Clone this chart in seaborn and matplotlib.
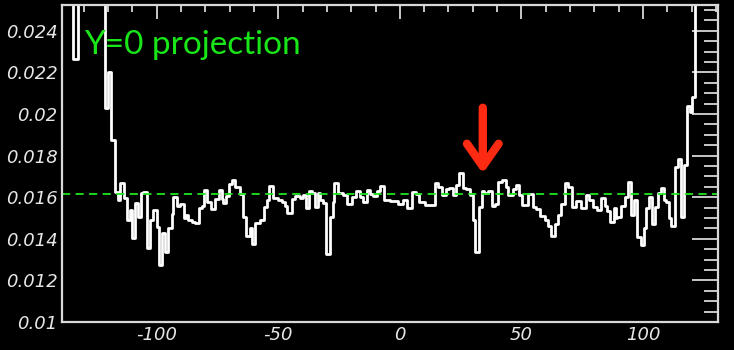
import numpy as np
import pandas as pd
import matplotlib
matplotlib.use("Agg")
import matplotlib.pyplot as plt
from matplotlib.ticker import MultipleLocator, FuncFormatter
import seaborn as sns

# ---- data (values in units of 1e-3) ----
bin_edges = [-138.9, -134.4, -132.5, -121.2, -119.8, -118.7, -117.0, -115.8, -115.0, -113.3,
             -112.2, -110.9, -110.1, -108.8, -107.6, -106.5, -105.4, -103.8, -102.7, -101.6,
             -99.9, -98.9, -97.9, -96.5, -95.2, -93.8, -93.1, -91.7, -90.4, -88.7,
             -87.9, -86.9, -85.5, -84.2, -82.4, -81.4, -80.5, -79.4, -77.6, -76.0,
             -74.2, -73.3, -72.6, -71.5, -70.1, -69.1, -67.8, -65.7, -64.6, -63.2,
             -61.6, -60.8, -59.5, -57.5, -55.9, -54.7, -53.7, -52.0, -50.1, -48.6,
             -47.2, -46.5, -44.5, -43.1, -41.1, -39.7, -38.6, -37.2, -36.3, -34.9,
             -33.7, -32.9, -31.5, -30.4, -28.7, -27.6, -27.0, -25.3, -23.3, -21.9,
             -19.8, -18.1, -16.4, -15.1, -13.7, -12.3, -11.2, -9.6, -8.2, -6.6,
             -4.1, -0.7, 1.4, 2.8, 4.8, 6.6, 7.9, 10.3, 14.4, 15.7,
             17.5, 18.9, 20.2, 21.9, 23.0, 24.4, 26.0, 27.1, 28.7, 30.1,
             30.8, 32.6, 33.6, 34.5, 36.3, 37.7, 39.0, 40.4, 41.8, 43.5,
             44.5, 46.5, 47.9, 49.0, 50.4, 52.7, 54.7, 56.1, 57.8, 59.5,
             60.9, 62.3, 63.7, 65.0, 66.4, 67.8, 69.1, 70.9, 72.6, 74.6,
             76.4, 77.7, 79.4, 81.0, 82.8, 84.2, 85.3, 86.2, 88.0, 88.7,
             89.4, 90.8, 92.4, 93.8, 95.2, 96.2, 97.6, 99.0, 100.3, 101.3,
             102.3, 103.6, 105.0, 106.1, 107.2, 108.5, 109.5, 110.5, 111.6, 113.3,
             114.3, 115.4, 117.0, 118.2, 119.1, 120.0, 121.2, 130.8]

bin_values = [27.0, 22.64, 27.0, 20.29, 22.03, 18.75, 16.26, 15.87, 16.67, 15.96,
              14.9, 15.38, 14.04, 15.72, 15.05, 16.2, 16.25, 13.56, 14.9, 15.38,
              14.57, 12.74, 14.28, 13.37, 14.5, 15.2, 16.0, 15.58, 15.67, 15.0,
              15.14, 14.9, 14.82, 14.74, 15.47, 15.58, 16.35, 15.78, 15.43, 15.91,
              16.35, 15.91, 15.72, 16.06, 16.63, 16.83, 16.5, 16.15, 15.03, 14.13,
              14.5, 13.75, 14.74, 14.9, 15.51, 15.87, 16.54, 15.94, 15.87, 15.78,
              15.58, 15.26, 15.9, 16.06, 15.94, 16.1, 15.5, 16.31, 16.19, 15.55,
              16.19, 15.87, 15.71, 13.27, 15.06, 15.78, 16.7, 16.22, 16.1, 15.67,
              16.02, 16.31, 16.02, 15.78, 16.35, 16.15, 16.06, 16.31, 16.54, 15.87,
              15.82, 15.67, 15.87, 15.47, 16.26, 16.15, 15.75, 15.62, 16.7, 16.48,
              16.1, 16.38, 16.43, 16.1, 16.59, 17.15, 16.43, 16.38, 16.1, 14.9,
              13.38, 15.54, 16.31, 16.22, 16.31, 15.58, 15.67, 16.75, 16.83, 16.48,
              16.1, 16.38, 16.59, 16.1, 15.62, 16.15, 15.54, 15.42, 15.1, 14.9,
              14.62, 14.13, 14.71, 15.14, 15.67, 16.7, 16.48, 15.54, 15.83, 15.47,
              16.1, 15.87, 15.51, 15.38, 15.94, 15.6, 15.35, 14.82, 15.47, 15.0,
              15.03, 15.58, 16.02, 16.75, 15.14, 15.87, 14.1, 13.7, 14.5, 15.47,
              16.0, 14.71, 15.54, 16.22, 16.43, 15.87, 15.78, 15.0, 14.62, 17.47,
              17.82, 15.03, 17.55, 20.38, 20.11, 20.8, 27.0]

fit_level = 0.01614
title_text = "Y=0 projection"
arrow_x = 34.1
arrow_y = [0.02030, 0.01714]
x_ticks = [-100, -50, 0, 50, 100]

# ---- plotting ----
sns.set_theme(style="dark")
plt.rcParams["font.family"] = ["DejaVu Sans"]
plt.rcParams["axes.unicode_minus"] = False

edges = np.array(bin_edges)
df = pd.DataFrame({
    "x": 0.5 * (edges[:-1] + edges[1:]),
    "w": np.array(bin_values) * 1e-3,
})

fig = plt.figure(figsize=(7.34, 3.5), dpi=100, facecolor="black")
ax = fig.add_axes([62 / 734, 1 - 322 / 350, (718 - 62) / 734, (322 - 5) / 350])
ax.set_facecolor("black")

sns.histplot(data=df, x="x", weights="w", bins=list(bin_edges), element="step",
             fill=False, color="white", linewidth=2.0, ax=ax)

ax.axhline(fit_level, color="#1ee61e", lw=1.3, ls=(0, (4.5, 3)))

ax.annotate("", xy=(arrow_x, arrow_y[1]), xytext=(arrow_x, arrow_y[0]),
            arrowprops=dict(arrowstyle="->,head_length=1.35,head_width=0.95",
                            color="#ff2a12", lw=6, capstyle="round",
                            joinstyle="round", shrinkA=0, shrinkB=0))

ax.text(0.034, 0.874, title_text, transform=ax.transAxes, color="#19e619",
        fontsize=24, family="Lato", va="center", ha="left")

ax.set_xlim(-138.9, 130.8)
ax.set_ylim(0.01, 0.02524)
ax.grid(False)
ax.set_xlabel("")
ax.set_ylabel("")

ax.set_xticks(x_ticks)
ax.xaxis.set_minor_locator(MultipleLocator(10))
ax.yaxis.set_major_locator(MultipleLocator(0.002))
ax.yaxis.set_minor_locator(MultipleLocator(0.0005))
ax.yaxis.set_major_formatter(FuncFormatter(lambda v, p: "%g" % round(v, 4)))
ax.xaxis.set_major_formatter(FuncFormatter(lambda v, p: "%d" % round(v)))

tc = "#d8d8d8"
ax.tick_params(axis="both", which="both", direction="in", color=tc,
               labelcolor="#e6e6e6", top=True, right=True, width=1.3,
               labelsize=13)
ax.tick_params(axis="x", which="major", length=10, pad=3)
ax.tick_params(axis="x", which="minor", length=5)
ax.tick_params(axis="y", which="major", length=19, pad=3)
ax.tick_params(axis="y", which="minor", length=10)
for lab in ax.get_xticklabels() + ax.get_yticklabels():
    lab.set_fontstyle("italic")

for sp in ax.spines.values():
    sp.set_color(tc)
    sp.set_linewidth(1.6)
    sp.set_visible(True)

fig.savefig("out.png", dpi=100, facecolor="black")
